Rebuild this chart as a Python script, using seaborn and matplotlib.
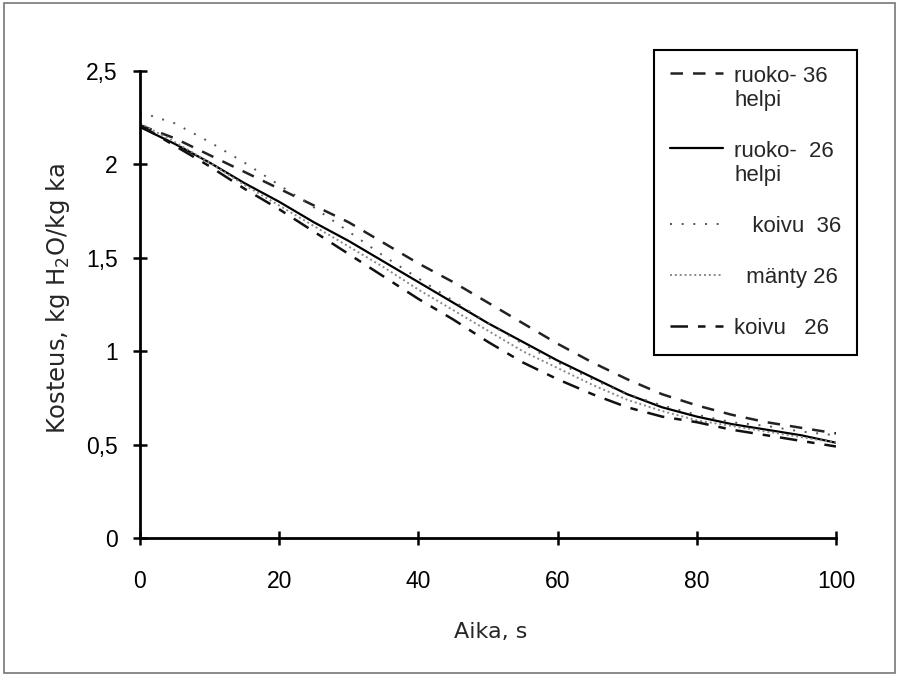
import pandas as pd
import seaborn as sns
import matplotlib.pyplot as plt
from matplotlib.patches import Rectangle

aika = [0, 5, 10, 15, 20, 25, 30, 35, 40, 45, 50, 55, 60, 65, 70, 75, 80, 85, 90, 95, 100]

ruokohelpi_36 = [2.21, 2.14, 2.05, 1.96, 1.87, 1.78, 1.69, 1.58, 1.47, 1.37, 1.26,
                 1.15, 1.04, 0.94, 0.85, 0.77, 0.71, 0.66, 0.62, 0.59, 0.56]
ruokohelpi_26 = [2.20, 2.11, 2.01, 1.90, 1.80, 1.69, 1.59, 1.48, 1.37, 1.26, 1.15,
                 1.05, 0.95, 0.86, 0.77, 0.70, 0.65, 0.61, 0.58, 0.55, 0.51]
koivu_36 = [2.28, 2.22, 2.12, 2.01, 1.89, 1.77, 1.64, 1.51, 1.39, 1.27, 1.15,
            1.04, 0.94, 0.85, 0.77, 0.71, 0.66, 0.62, 0.60, 0.57, 0.55]
manty_26 = [2.22, 2.12, 2.01, 1.89, 1.78, 1.67, 1.56, 1.45, 1.33, 1.22, 1.11,
            1.00, 0.91, 0.82, 0.74, 0.68, 0.63, 0.60, 0.57, 0.54, 0.51]
koivu_26 = [2.21, 2.10, 1.99, 1.87, 1.76, 1.64, 1.52, 1.40, 1.28, 1.17, 1.05,
            0.94, 0.85, 0.77, 0.70, 0.65, 0.62, 0.58, 0.55, 0.52, 0.49]

labels = ["ruoko- 36\nhelpi", "ruoko-  26\nhelpi", "   koivu  36", "  mänty 26", "koivu   26"]
series = [ruokohelpi_36, ruokohelpi_26, koivu_36, manty_26, koivu_26]

# line looks per series
styles = [
    dict(color="#222222", lw=1.8, dashes=(5, 4)),
    dict(color="black", lw=1.6, dashes=None),
    dict(color="#555555", lw=1.4, dashes=(1, 5)),
    dict(color="#888888", lw=1.4, dashes=(1, 1.5)),
    dict(color="#111111", lw=1.8, dashes=(7, 4, 3, 4)),
]

sns.set_theme(style="white")
plt.rcParams['font.family'] = ['Liberation Sans', 'DejaVu Sans']

fig = plt.figure(figsize=(8.99, 6.77), dpi=100)
ax = fig.add_axes([0.1557, 0.2053, 0.7742, 0.6898])

for vals, lab, st in zip(series, labels, styles):
    df = pd.DataFrame({"Aika": aika, "Kosteus": vals})
    sns.lineplot(data=df, x="Aika", y="Kosteus", ax=ax, label=lab,
                 color=st["color"], linewidth=st["lw"], legend=False)
    if st["dashes"]:
        ax.lines[-1].set_dashes(st["dashes"])

ax.set_xlim(0, 100)
ax.set_ylim(0, 2.5)
ax.set_xticks([0, 20, 40, 60, 80, 100])
ax.set_yticks([0, 0.5, 1, 1.5, 2, 2.5])
ax.set_yticklabels(["0", "0,5", "1", "1,5", "2", "2,5"])
ax.tick_params(axis="both", direction="inout", length=10, width=1.8,
               labelsize=16.5, color="black", labelcolor="black",
               bottom=True, left=True)
ax.tick_params(axis="x", pad=18)
ax.tick_params(axis="y", pad=11)
for side in ["top", "right"]:
    ax.spines[side].set_visible(False)
for side in ["left", "bottom"]:
    ax.spines[side].set_color("black")
    ax.spines[side].set_linewidth(2)

ax.set_xlabel("Aika, s", fontsize=16, family=["DejaVu Sans"])
ax.set_ylabel("Kosteus, kg H$_2$O/kg ka", fontsize=17.5, family=["DejaVu Sans"])
ax.xaxis.set_label_coords(0.504, -0.180)
ax.yaxis.set_label_coords(-0.097, 0.514)

leg = ax.legend(loc="upper right", bbox_to_anchor=(857 / 899, 1 - 50 / 677),
                bbox_transform=fig.transFigure, borderaxespad=0, fontsize=16,
                frameon=True, fancybox=False, edgecolor="black", handlelength=2.4,
                labelspacing=1.35, borderpad=0.7, handletextpad=0.5)
leg.get_frame().set_linewidth(1.5)
leg.get_frame().set_alpha(1)
# two-line entries: handle sits at the first text line
for h in leg.legend_handles[:2]:
    y = h.get_ydata()
    h.set_ydata([v + 11 for v in y])

# outer frame of the picture
fig.patches.append(Rectangle((0.004, 0.006), 0.992, 0.99, transform=fig.transFigure,
                             fill=False, edgecolor="#777777", linewidth=1.2))

fig.savefig("out.png", dpi=100)
